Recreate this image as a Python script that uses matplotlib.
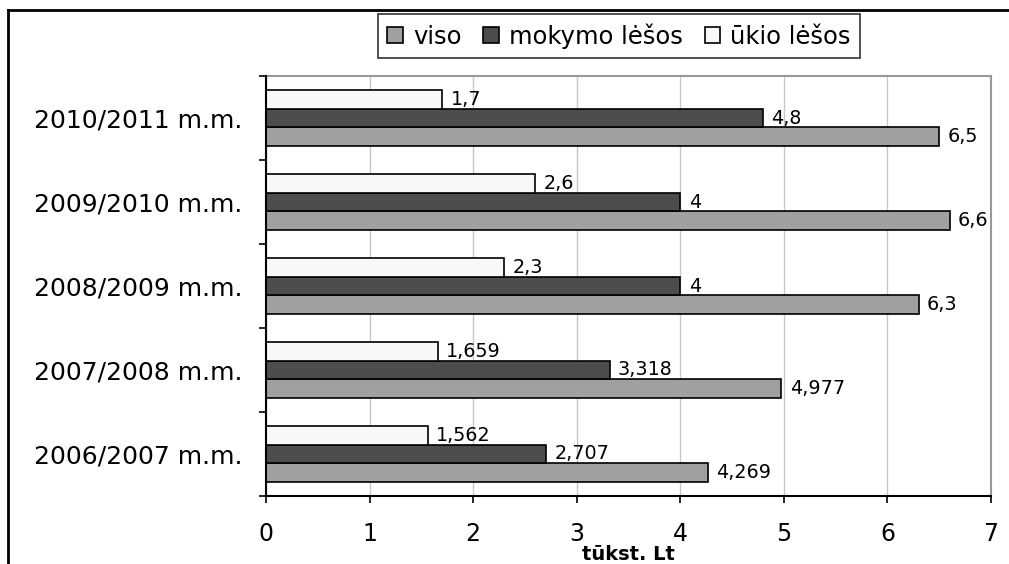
import matplotlib
matplotlib.use("Agg")
import matplotlib.pyplot as plt
from matplotlib.lines import Line2D
import numpy as np

plt.rcParams["font.family"] = ["DejaVu Sans"]

# duomenys (tūkst. Lt)
years = ["2006/2007 m.m.", "2007/2008 m.m.", "2008/2009 m.m.",
         "2009/2010 m.m.", "2010/2011 m.m."]
viso = [4.269, 4.977, 6.3, 6.6, 6.5]
mokymo = [2.707, 3.318, 4, 4, 4.8]
ukio = [1.562, 1.659, 2.3, 2.6, 1.7]
series_names = ["viso", "mokymo lėšos", "ūkio lėšos"]
x_ticks = [0, 1, 2, 3, 4, 5, 6, 7]


def fmt(v):
    return f"{v:g}".replace(".", ",")


fig = plt.figure(figsize=(10.09, 5.64), dpi=100)
ax = fig.add_axes([0.2636, 0.1206, 0.7186, 0.7446])

y = np.arange(len(years))
h = 0.22
colors = ["#a0a0a0", "#4d4d4d", "#f8f8f8"]
handles = []
for offs, vals, col, name in [(-h, viso, colors[0], series_names[0]),
                              (0, mokymo, colors[1], series_names[1]),
                              (h, ukio, colors[2], series_names[2])]:
    bars = ax.barh(y + offs, vals, height=h, color=col, edgecolor="black",
                   linewidth=1.2, label=name, zorder=3)
    handles.append(bars)
    for b, v in zip(bars, vals):
        ax.annotate(fmt(v), (b.get_width(), b.get_y() + b.get_height() / 2),
                    xytext=(6, 0), textcoords="offset points",
                    ha="left", va="center", fontsize=13.8, zorder=4)

ax.set_xlim(0, 7)
ax.set_ylim(-0.5, len(years) - 0.5)
ax.set_xticks(x_ticks)
ax.set_xticklabels([str(t) for t in x_ticks], fontsize=17)
ax.set_yticks(y)
ax.set_yticklabels(years, fontsize=18)
ax.set_yticks(np.arange(-0.5, len(years), 1), minor=True)
ax.tick_params(axis="y", which="major", length=0, pad=17)
ax.tick_params(axis="y", which="minor", length=5, width=1.2, direction="out")
ax.tick_params(axis="x", length=5, width=1.2, direction="out", pad=14)
ax.xaxis.grid(True, color="#c8c8c8", linewidth=1, zorder=0)
ax.set_axisbelow(True)

for side in ["top", "right"]:
    ax.spines[side].set_color("#999999")
    ax.spines[side].set_linewidth(1.5)
for side in ["left", "bottom"]:
    ax.spines[side].set_color("black")
    ax.spines[side].set_linewidth(1.5)
    ax.spines[side].set_zorder(5)

leg = fig.legend(handles, series_names, loc="center",
                 bbox_to_anchor=(619 / 1009, 1 - 36 / 564),
                 ncol=3, fontsize=17.5, frameon=True, fancybox=False,
                 edgecolor="black", handlelength=0.65, handleheight=0.65,
                 handletextpad=0.4, columnspacing=0.9, borderpad=0.4)
leg.get_frame().set_linewidth(1.2)

fig.text(628 / 1009, 1 - 554 / 564, "tūkst. Lt", ha="center", va="center",
         fontsize=14, fontweight="bold")

# rėmelis aplink paveikslą
fig.add_artist(Line2D([8 / 1009, 1], [1 - 10 / 564, 1 - 10 / 564],
                      transform=fig.transFigure, color="black", linewidth=2))
fig.add_artist(Line2D([8 / 1009, 8 / 1009], [0, 1 - 10 / 564],
                      transform=fig.transFigure, color="black", linewidth=2))

fig.savefig("out.png", dpi=100)
